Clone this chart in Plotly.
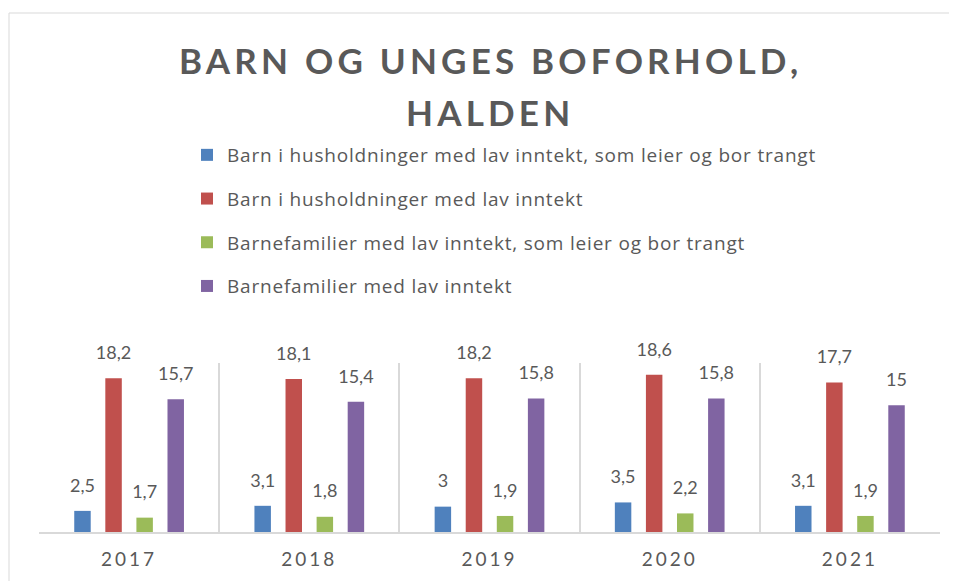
import plotly.graph_objects as go

years = ['2017', '2018', '2019', '2020', '2021']
series_names = [
    'Barn i husholdninger med lav inntekt, som leier og bor trangt',
    'Barn i husholdninger med lav inntekt',
    'Barnefamilier med lav inntekt, som leier og bor trangt',
    'Barnefamilier med lav inntekt',
]
barn_trangt = [2.5, 3.1, 3.0, 3.5, 3.1]
barn_lav = [18.2, 18.1, 18.2, 18.6, 17.7]
fam_trangt = [1.7, 1.8, 1.9, 2.2, 1.9]
fam_lav = [15.7, 15.4, 15.8, 15.8, 15.0]
title_lines = ['BARN OG UNGES BOFORHOLD,', 'HALDEN']

colors = ['#4f81bd', '#c0504d', '#9bbb59', '#8064a2']
grey = '#595959'
font = 'Lato, Open Sans, sans-serif'


def fmt(v):
    # norwegian decimal comma, drop trailing ,0
    return ('%g' % v).replace('.', ',')


def spaced(s, px):
    return "<span style='letter-spacing:%spx'>%s</span>" % (px, s)


def label(v):
    # empty small second line lifts the value a bit off the bar, like excel
    return "<span style='font-size:18px'>%s</span><br>&nbsp;" % fmt(v)


fig = go.Figure()
for i, (name, vals) in enumerate(zip(series_names, [barn_trangt, barn_lav, fam_trangt, fam_lav])):
    fig.add_trace(go.Bar(
        x=years,
        y=vals,
        name=spaced(name, 0.8),
        legendgroup='g%d' % i,
        marker=dict(color=colors[i], line=dict(width=0)),
        text=[label(v) for v in vals],
        textposition='outside',
        constraintext='none',
        textfont=dict(family=font, size=11, color=grey),
        cliponaxis=False,
    ))

# plot area kept at the same pixel spot as the reference (page has 8px body margin)
W, H = 949, 573
L, R, T, B = 31, 17, 355, 49
pw, ph = W - L - R, H - T - B

annotations = []
for line, yc in zip(title_lines, [52, 104]):
    annotations.append(dict(
        text=spaced(line, 4.2),
        x=(482 - L) / pw, xref='paper', xanchor='center',
        y=(H - B - yc) / ph, yref='paper', yanchor='middle',
        showarrow=False,
        font=dict(family=font, size=35, color=grey, weight='bold'),
    ))

fig.update_layout(
    width=W,
    height=H,
    barmode='group',
    bargap=0.31,
    bargroupgap=0.47,
    plot_bgcolor='white',
    paper_bgcolor='white',
    margin=dict(l=L, r=R, t=T, b=B, autoexpand=False),
    font=dict(family=font, color=grey),
    annotations=annotations,
    legend=dict(
        x=179 / W, xref='container', xanchor='left',
        y=1 - 128 / H, yref='container', yanchor='top',
        font=dict(family='Open Sans, sans-serif', size=19, color=grey),
        tracegroupgap=16,
        bgcolor='rgba(0,0,0,0)',
    ),
    showlegend=True,
    xaxis=dict(
        type='category',
        tickmode='array',
        tickvals=years,
        ticktext=[spaced(y, 3) for y in years],
        tickson='boundaries',
        showgrid=True,
        gridcolor='#d9d9d9',
        gridwidth=1.5,
        showline=True,
        linecolor='#d9d9d9',
        linewidth=2,
        ticks='',
        ticklabelstandoff=9,
        tickfont=dict(family=font, size=19, color=grey),
        range=[-0.5, 4.5],
    ),
    yaxis=dict(
        range=[0, 20],
        showgrid=False,
        showticklabels=False,
        zeroline=False,
        showline=False,
    ),
    shapes=[dict(
        type='rect', xref='paper', yref='paper',
        x0=(1 - L) / pw, x1=(W + 20 - L) / pw,
        y0=(H - B - (H + 20)) / ph, y1=(H - B - 5) / ph,
        line=dict(color='#d9d9d9', width=1),
        layer='below',
    )],
)

fig.write_html('out.html')
